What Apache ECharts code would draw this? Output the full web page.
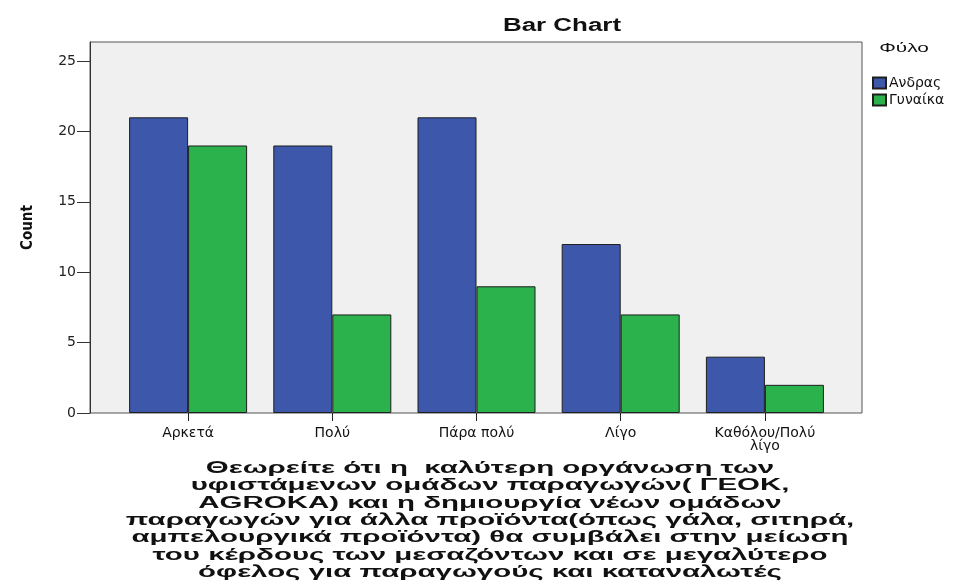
<!DOCTYPE html>
<html><head><meta charset="utf-8">
<script src="https://cdn.jsdelivr.net/npm/echarts@6/dist/echarts.min.js"></script>
<style>html,body{margin:0;padding:0;background:#fff}#c{width:961px;height:588px}</style>
</head><body><div id="c"></div>
<script>
const categories = ['Αρκετά', 'Πολύ', 'Πάρα πολύ', 'Λίγο', 'Καθόλου/Πολύ\nλίγο'];
const seriesNames = ['Ανδρας', 'Γυναίκα'];
const men = [21, 19, 21, 12, 4];
const women = [19, 7, 9, 7, 2];
const yTicks = [0, 5, 10, 15, 20, 25];
const chartTitle = 'Bar Chart';
const legendTitle = 'Φύλο';
const yName = 'Count';
const xName = 'Θεωρείτε ότι η  καλύτερη οργάνωση των\nυφιστάμενων ομάδων παραγωγών( ΓΕΟΚ,\nAGROKA) και η δημιουργία νέων ομάδων\nπαραγωγών για άλλα προϊόντα(όπως γάλα, σιτηρά,\nαμπελουργικά προϊόντα) θα συμβάλει στην μείωση\nτου κέρδους των μεσαζόντων και σε μεγαλύτερο\nόφελος για παραγωγούς και καταναλωτές';

const YMAX = 26.35;
const chart = echarts.init(document.getElementById('c'));
const barStyle = (c) => ({ color: c, borderColor: '#1e1e1e', borderWidth: 1 });
chart.setOption({
  animation: false,
  backgroundColor: '#fff',
  grid: [
    { left: 90, top: 42, width: 772, height: 371, show: true, backgroundColor: '#f0f0f0', borderColor: '#555', borderWidth: 1 },
    { left: 116, top: 42, width: 721, height: 371 }
  ],
  xAxis: [
    { gridIndex: 0, type: 'value', min: 0, max: 1, show: false },
    { gridIndex: 1, type: 'category', data: categories,
      axisLine: { show: false },
      axisTick: { show: true, alignWithLabel: true, length: 8, lineStyle: { color: '#222' } },
      axisLabel: { fontFamily: 'DejaVu Sans', fontSize: 14, color: '#111', margin: 14, lineHeight: 13 } }
  ],
  yAxis: [
    { gridIndex: 0, type: 'value', min: 0, max: YMAX, interval: 5,
      splitLine: { show: false },
      axisLine: { show: true, lineStyle: { color: '#333' } },
      axisTick: { show: true, length: 13, lineStyle: { color: '#333' } },
      axisLabel: { fontFamily: 'DejaVu Sans', fontSize: 14, color: '#222', margin: 14, showMaxLabel: false,
        formatter: (v) => yTicks.includes(v) ? String(v) : '' },
      name: yName, nameLocation: 'middle', nameRotate: 90, nameGap: 54,
      nameTextStyle: { fontFamily: '"DejaVu Sans Condensed", "DejaVu Sans"', fontWeight: 'bold', fontSize: 15, color: '#111' } },
    { gridIndex: 1, type: 'value', min: 0, max: YMAX, show: false }
  ],
  legend: {
    orient: 'vertical', left: 867, top: 71, itemWidth: 13, itemHeight: 11, itemGap: 3,
    icon: 'rect',
    textStyle: { fontFamily: 'DejaVu Sans', fontSize: 14, color: '#111', padding: [0, 0, 0, -2] },
    data: seriesNames
  },
  series: [
    { name: seriesNames[0], type: 'bar', xAxisIndex: 1, yAxisIndex: 1, data: men, barWidth: 59, barGap: '0%', itemStyle: barStyle('#3d57ab') },
    { name: seriesNames[1], type: 'bar', xAxisIndex: 1, yAxisIndex: 1, data: women, barWidth: 59, barGap: '0%', itemStyle: barStyle('#2bb24c') }
  ],
  graphic: [
    { type: 'text', x: 562, y: 26, scaleX: 1.44, style: { text: chartTitle, font: 'bold 18px "Liberation Sans"', fill: '#111', align: 'center', verticalAlign: 'middle' } },
    { type: 'text', x: 904, y: 48, scaleX: 1.6, style: { text: legendTitle, font: '13px "Liberation Sans"', fill: '#111', align: 'center', verticalAlign: 'middle' } },
    { type: 'text', x: 490, y: 460, scaleX: 1.84, style: { text: xName, font: 'bold 16px "Liberation Sans"', lineHeight: 17.3, fill: '#111', align: 'center', verticalAlign: 'top' } }
  ]
});
</script></body></html>
